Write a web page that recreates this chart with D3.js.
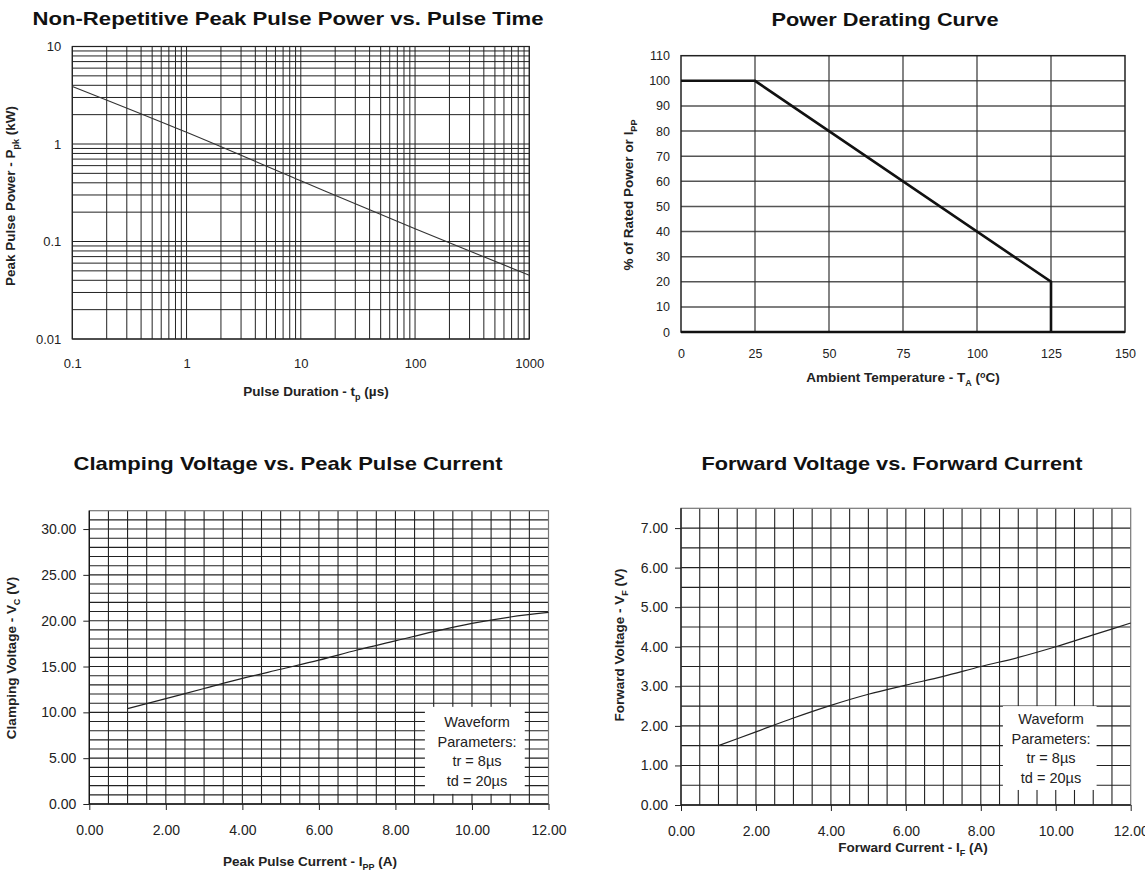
<!DOCTYPE html>
<html>
<head>
<meta charset="utf-8">
<script src="https://cdn.jsdelivr.net/npm/d3@7"></script>
<style>
  body { margin: 0; background: #fff; }
  svg { display: block; }
  text { font-family: "Liberation Sans", Arial, sans-serif; fill: #222; }
  .title { font-family: "Liberation Sans Narrow", "Liberation Sans", Arial, sans-serif; font-weight: bold; font-size: 19px; fill: #111; }
  .atitle { font-weight: bold; font-size: 13.5px; fill: #222; }
</style>
</head>
<body>
<svg id="chart" width="1145" height="876"></svg>
<script>
// --- peak pulse power vs pulse time (log-log)
const pulseTime = [0.1, 1, 10, 100, 1000];
const pulsePower = [3.9, 1.32, 0.42, 0.135, 0.045];
const pulseXTicks = [0.1, 1, 10, 100, 1000];
const pulseYTicks = [0.01, 0.1, 1, 10];

// --- power derating curve
const deratingTemp = [0, 25, 125, 125];
const deratingPct = [100, 100, 20, 0];
const deratingXTicks = [0, 25, 50, 75, 100, 125, 150];
const deratingYTicks = [0, 10, 20, 30, 40, 50, 60, 70, 80, 90, 100, 110];

// --- clamping voltage vs peak pulse current
const clampCurrent = [1, 2, 3, 4, 5, 6, 7, 8, 9, 10, 11, 12];
const clampVoltage = [10.4, 11.5, 12.6, 13.7, 14.7, 15.7, 16.8, 17.8, 18.8, 19.7, 20.4, 20.9];
const clampXTicks = [0, 2, 4, 6, 8, 10, 12];
const clampYTicks = [0, 5, 10, 15, 20, 25, 30];

// --- forward voltage vs forward current
const fwdCurrent = [1, 2, 3, 4, 5, 6, 7, 8, 9, 10, 11, 12];
const fwdVoltage = [1.5, 1.85, 2.2, 2.52, 2.8, 3.03, 3.25, 3.5, 3.73, 4.0, 4.3, 4.6];
const fwdXTicks = [0, 2, 4, 6, 8, 10, 12];
const fwdYTicks = [0, 1, 2, 3, 4, 5, 6, 7];

const noteLines = ['Waveform', 'Parameters:', 'tr = 8µs', 'td = 20µs'];

const svg = d3.select('#chart');

// text with subscript / superscript parts: [text, 'sub'|'sup'|undefined]
function richText(g, parts, cls) {
  const t = g.append('text').attr('class', cls).attr('text-anchor', 'middle');
  let shift = 0;
  parts.forEach(([s, kind]) => {
    const want = kind === 'sub' ? 3.5 : kind === 'sup' ? -4.5 : 0;
    const ts = t.append('tspan').text(s).attr('dy', want - shift);
    if (kind) ts.attr('font-size', 9);
    shift = want;
  });
  return t;
}

function title(txt, cx, cy, len) {
  svg.append('text').attr('class', 'title')
    .attr('x', cx).attr('y', cy).attr('dy', '0.35em')
    .attr('text-anchor', 'middle')
    .attr('textLength', len).attr('lengthAdjust', 'spacingAndGlyphs')
    .text(txt);
}

function xTitle(parts, cx, cy) {
  richText(svg.append('g').attr('transform', `translate(${cx},${cy})`), parts, 'atitle')
    .attr('dy', '0.35em');
}

function yTitle(parts, cx, cy) {
  richText(svg.append('g').attr('transform', `translate(${cx},${cy}) rotate(-90)`), parts, 'atitle')
    .attr('dy', '0.35em');
}

function styleAxis(g, size) {
  g.attr('font-size', size).attr('font-family', null).attr('color', '#222');
  g.select('.domain').remove();
}

// ---------------- chart 1 ----------------
(function() {
  const x = d3.scaleLog().domain([0.1, 1000]).range([72.3, 529.3]);
  const y = d3.scaleLog().domain([0.01, 10]).range([339, 46.5]);
  const g = svg.append('g');

  g.selectAll('.vx').data(x.ticks()).join('line')
    .attr('x1', d => x(d)).attr('x2', d => x(d))
    .attr('y1', y.range()[0]).attr('y2', y.range()[1])
    .attr('stroke', '#222').attr('stroke-width', 1);
  g.selectAll('.hy').data(y.ticks()).join('line')
    .attr('y1', d => y(d)).attr('y2', d => y(d))
    .attr('x1', x.range()[0]).attr('x2', x.range()[1])
    .attr('stroke', '#222').attr('stroke-width', 1);
  g.append('rect').attr('x', x.range()[0]).attr('y', y.range()[1])
    .attr('width', x.range()[1] - x.range()[0]).attr('height', y.range()[0] - y.range()[1])
    .attr('fill', 'none').attr('stroke', '#222').attr('stroke-width', 1.2);

  g.append('path').datum(pulseTime.map((d, i) => [d, pulsePower[i]]))
    .attr('d', d3.line().x(d => x(d[0])).y(d => y(d[1])).curve(d3.curveMonotoneX))
    .attr('fill', 'none').attr('stroke', '#333').attr('stroke-width', 1.1);

  svg.append('g').attr('transform', `translate(0,${y.range()[0]})`)
    .call(d3.axisBottom(x).tickValues(pulseXTicks).tickFormat(d3.format('~g')).tickSize(0).tickPadding(19.5))
    .call(g => styleAxis(g, 13));
  svg.append('g').attr('transform', `translate(${x.range()[0]},0)`)
    .call(d3.axisLeft(y).tickValues(pulseYTicks).tickFormat(d3.format('~g')).tickSize(0).tickPadding(11))
    .call(g => styleAxis(g, 13));

  title('Non-Repetitive Peak Pulse Power vs. Pulse Time', 288, 18.5, 511);
  xTitle([['Pulse Duration - t'], ['p', 'sub'], [' (µs)']], 316, 396);
  yTitle([['Peak Pulse Power - P'], ['pk', 'sub'], [' (kW)']], 15, 196);
})();

// ---------------- chart 2 ----------------
(function() {
  const x = d3.scaleLinear().domain([0, 150]).range([681, 1125]);
  const y = d3.scaleLinear().domain([0, 110]).range([332, 55.7]);
  const g = svg.append('g');

  g.selectAll('.hy').data(deratingYTicks.slice(1, -1)).join('line')
    .attr('y1', d => y(d)).attr('y2', d => y(d))
    .attr('x1', x.range()[0]).attr('x2', x.range()[1])
    .attr('stroke', '#555').attr('stroke-width', 1.5);
  g.selectAll('.vx').data(deratingXTicks.slice(1, -1)).join('line')
    .attr('x1', d => x(d)).attr('x2', d => x(d))
    .attr('y1', y.range()[0]).attr('y2', y.range()[1])
    .attr('stroke', '#333').attr('stroke-width', 1.2);
  g.append('rect').attr('x', x.range()[0]).attr('y', y.range()[1])
    .attr('width', x.range()[1] - x.range()[0]).attr('height', y.range()[0] - y.range()[1])
    .attr('fill', 'none').attr('stroke', '#222').attr('stroke-width', 1.5);
  g.append('line').attr('x1', x.range()[0]).attr('x2', x.range()[1])
    .attr('y1', y(0)).attr('y2', y(0)).attr('stroke', '#111').attr('stroke-width', 2.5);

  g.append('path').datum(deratingTemp.map((d, i) => [d, deratingPct[i]]))
    .attr('d', d3.line().x(d => x(d[0])).y(d => y(d[1])))
    .attr('fill', 'none').attr('stroke', '#111').attr('stroke-width', 2.6);

  svg.append('g').attr('transform', `translate(0,${y.range()[0]})`)
    .call(d3.axisBottom(x).tickValues(deratingXTicks).tickSize(0).tickPadding(17.5))
    .call(g => styleAxis(g, 12.5));
  svg.append('g').attr('transform', `translate(${x.range()[0]},0)`)
    .call(d3.axisLeft(y).tickValues(deratingYTicks).tickSize(0).tickPadding(11))
    .call(g => styleAxis(g, 12.5));

  title('Power Derating Curve', 885, 19, 227);
  xTitle([['Ambient Temperature - T'], ['A', 'sub'], [' ('], ['o', 'sup'], ['C)']], 903, 382);
  yTitle([['% of Rated Power or I'], ['PP', 'sub']], 633, 195);
})();

// ---------------- chart 3 / 4 helper ----------------
function gridChart(opt) {
  const x = d3.scaleLinear().domain([0, 12]).range(opt.xr);
  const y = d3.scaleLinear().domain([0, opt.ymax]).range(opt.yr);
  const g = svg.append('g');

  g.selectAll('.vx').data(d3.range(0.5, 12, 0.5)).join('line')
    .attr('x1', d => x(d)).attr('x2', d => x(d))
    .attr('y1', y.range()[0]).attr('y2', y.range()[1])
    .attr('stroke', '#222').attr('stroke-width', 1.1);
  g.selectAll('.hy').data(d3.range(opt.ystep, opt.ymax, opt.ystep)).join('line')
    .attr('y1', d => y(d)).attr('y2', d => y(d))
    .attr('x1', x.range()[0]).attr('x2', x.range()[1])
    .attr('stroke', '#222').attr('stroke-width', 1.1);
  g.append('rect').attr('x', x.range()[0]).attr('y', y.range()[1])
    .attr('width', x.range()[1] - x.range()[0]).attr('height', y.range()[0] - y.range()[1])
    .attr('fill', 'none').attr('stroke', '#777').attr('stroke-width', 1.2);
  g.append('line').attr('x1', x.range()[0]).attr('x2', x.range()[0])
    .attr('y1', y.range()[0]).attr('y2', y.range()[1]).attr('stroke', '#111').attr('stroke-width', 1.3);
  g.append('line').attr('x1', x.range()[0]).attr('x2', x.range()[1])
    .attr('y1', y.range()[0]).attr('y2', y.range()[0]).attr('stroke', '#111').attr('stroke-width', 1.3);

  g.append('path').datum(opt.xs.map((d, i) => [d, opt.ys[i]]))
    .attr('d', d3.line().x(d => x(d[0])).y(d => y(d[1])).curve(d3.curveMonotoneX))
    .attr('fill', 'none').attr('stroke', '#222').attr('stroke-width', 1.2);

  // parameter note
  const b = opt.box;
  g.append('rect').attr('x', x(b[0])).attr('y', y(b[3]))
    .attr('width', x(b[1]) - x(b[0])).attr('height', y(b[2]) - y(b[3]))
    .attr('fill', '#fff');
  g.selectAll('.note').data(noteLines).join('text')
    .attr('x', opt.noteX).attr('y', (d, i) => opt.noteY + i * opt.noteGap)
    .attr('dy', '0.35em').attr('text-anchor', 'middle')
    .attr('font-size', 14.5).text(d => d);

  svg.append('g').attr('transform', `translate(0,${y.range()[0]})`)
    .call(d3.axisBottom(x).tickValues(opt.xt).tickFormat(d3.format('.2f')).tickSize(6).tickPadding(15))
    .call(g => styleAxis(g, 14));
  svg.append('g').attr('transform', `translate(${x.range()[0]},0)`)
    .call(d3.axisLeft(y).tickValues(opt.yt).tickFormat(d3.format('.2f')).tickSize(6).tickPadding(7))
    .call(g => styleAxis(g, 14));
}

gridChart({
  xr: [89.3, 548.5], yr: [804, 510.7], ymax: 32, ystep: 1,
  xs: clampCurrent, ys: clampVoltage, xt: clampXTicks, yt: clampYTicks,
  box: [8.77, 11.38, 1.1, 10.6], noteX: 477, noteY: 722, noteGap: 19.5
});
title('Clamping Voltage vs. Peak Pulse Current', 288, 463, 429);
xTitle([['Peak Pulse Current - I'], ['PP', 'sub'], [' (A)']], 310, 866);
yTitle([['Clamping Voltage - V'], ['C', 'sub'], [' (V)']], 16, 658);

gridChart({
  xr: [681, 1130.7], yr: [805, 508.3], ymax: 7.5, ystep: 0.5,
  xs: fwdCurrent, ys: fwdVoltage, xt: fwdXTicks, yt: fwdYTicks,
  box: [8.59, 11.09, 0.38, 2.5], noteX: 1051, noteY: 719, noteGap: 19.7
});
title('Forward Voltage vs. Forward Current', 892, 463, 381);
xTitle([['Forward Current - I'], ['F', 'sub'], [' (A)']], 913, 852);
yTitle([['Forward Voltage - V'], ['F', 'sub'], [' (V)']], 624, 645);
</script>
</body>
</html>
